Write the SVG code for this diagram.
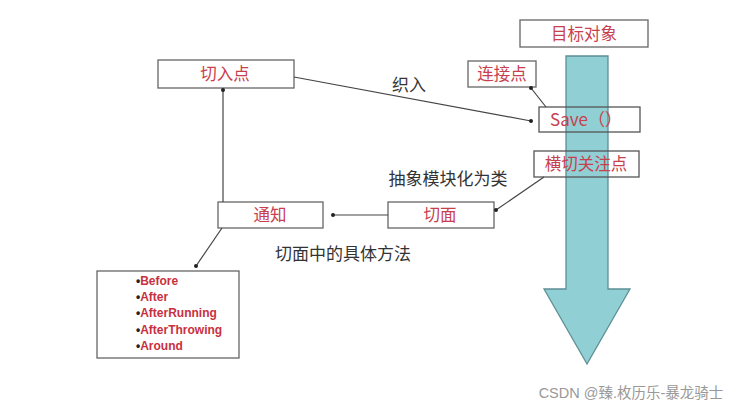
<svg xmlns="http://www.w3.org/2000/svg" width="739" height="411" viewBox="0 0 739 411">
<style>
.box{fill:#fff;stroke:#666;stroke-width:1.3}
.obox{fill:none;stroke:#555;stroke-width:1.3}
.lbl{font-family:"Noto Sans CJK SC","Noto Sans",sans-serif;font-size:16.5px;fill:#c8404e;text-anchor:middle}
.txt{font-family:"Noto Sans CJK SC","Noto Sans",sans-serif;font-size:17px;fill:#333;text-anchor:middle}
.li{font-family:"Liberation Sans",Arial,sans-serif;font-size:12px;font-weight:bold;fill:#c8303e}
.bu{fill:#222}
.conn{stroke:#444;stroke-width:1.2;fill:none;marker-end:url(#dot)}
</style>
<defs>
<marker id="dot" viewBox="0 0 6 6" refX="3" refY="3" markerWidth="4" markerHeight="4" markerUnits="userSpaceOnUse"><circle cx="3" cy="3" r="3" fill="#222"/></marker>
</defs>
<rect width="739" height="411" fill="#fff"/>
<g id="arrow-target">
<path d="M566,56 L608,56 L608,289 L630,289 L587,364 L544,289 L566,289 Z" fill="#90cfd3" stroke="#5d8f95" stroke-width="1.3"/>
</g>
<g id="target"><rect class="box" x="520" y="20" width="128" height="27"/><text class="lbl" x="584" y="39.5">目标对象</text></g>
<g id="joinpoint"><rect class="box" x="468" y="61" width="68" height="26"/><text class="lbl" x="502" y="80">连接点</text></g>
<g id="save"><rect class="obox" x="539" y="107" width="101" height="25"/><text class="lbl" x="586" y="126" style="font-size:17px">Save（）</text></g>
<g id="crosscut"><rect class="obox" x="534" y="151" width="105" height="26"/><text class="lbl" x="586" y="170">横切关注点</text></g>
<g id="pointcut"><rect class="box" x="158" y="60" width="136" height="28"/><text class="lbl" x="225" y="80">切入点</text></g>
<g id="advice"><rect class="box" x="218" y="202" width="105" height="26"/><text class="lbl" x="270" y="221">通知</text></g>
<g id="aspect"><rect class="box" x="388" y="202" width="106" height="26"/><text class="lbl" x="440" y="221">切面</text></g>
<g id="types">
<rect class="box" x="97" y="271" width="142" height="87"/>
<g class="li">
<text x="136" y="285"><tspan class="bu">•</tspan>Before</text>
<text x="136" y="301"><tspan class="bu">•</tspan>After</text>
<text x="136" y="317"><tspan class="bu">•</tspan>AfterRunning</text>
<text x="136" y="334"><tspan class="bu">•</tspan>AfterThrowing</text>
<text x="136" y="350"><tspan class="bu">•</tspan>Around</text>
</g>
</g>
<g id="connectors">
<line class="conn" x1="294" y1="77" x2="531" y2="121"/>
<line class="conn" x1="546" y1="107" x2="531" y2="88"/>
<line class="conn" x1="223" y1="202" x2="223" y2="90"/>
<line class="conn" x1="388" y1="215" x2="333" y2="215"/>
<line class="conn" x1="544" y1="177" x2="496" y2="210"/>
<line class="conn" x1="222" y1="228" x2="196" y2="266"/>
</g>
<g id="labels">
<text class="txt" x="409" y="91">织入</text>
<text class="txt" x="448" y="185">抽象模块化为类</text>
<text class="txt" x="343" y="260">切面中的具体方法</text>
</g>
<text x="631" y="398" style="font-family:'Liberation Sans','Noto Sans CJK SC',sans-serif;font-size:14.5px;fill:#999;text-anchor:middle">CSDN @臻.枚历乐-暴龙骑士</text>
</svg>
